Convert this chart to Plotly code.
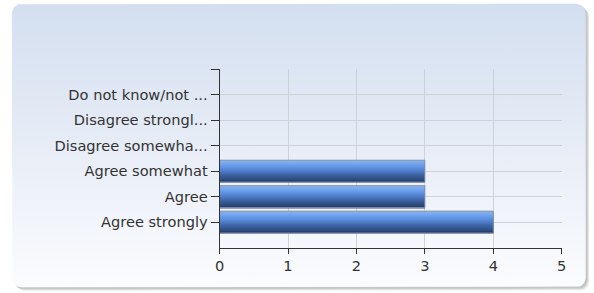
import numpy as np
import plotly.graph_objects as go

# ---- data ----
categories = ["Agree strongly", "Agree", "Agree somewhat",
              "Disagree somewha...", "Disagree strongl...", "Do not know/not ..."]
values = [4, 3, 3, 0, 0, 0]
x_ticks = [0, 1, 2, 3, 4, 5]

W, H = 594, 293
positions = list(range(len(categories)))

# small compensation for the capture scaling observed (content rendered ~1.6% smaller)
K = 1.016
CX, CY = W / 2, H / 2
def sx(x):
    return CX + (x - CX) * K
def sy(y):  # y given in top-down screen pixels -> returns top-down pixels
    return CY + (y - CY) * K

FONT = dict(family="Verdana, DejaVu Sans, sans-serif", size=14.6, color="#333333")

fig = go.Figure()

# ---- background panel (rounded, gradient, shadow) on full-page axes ----
def rounded_rect(x0, y0, x1, y1, r, n=10):
    xs, ys = [], []
    corners = [(x1 - r, y1 - r, 0, 90), (x0 + r, y1 - r, 90, 180),
               (x0 + r, y0 + r, 180, 270), (x1 - r, y0 + r, 270, 360)]
    for cx, cy, a0, a1 in corners:
        t = np.radians(np.linspace(a0, a1, n))
        xs += list(cx + r * np.cos(t))
        ys += list(cy + r * np.sin(t))
    xs.append(xs[0]); ys.append(ys[0])
    return xs, ys

px0, px1 = sx(11.5), sx(586)
ptop, pbot = H - sy(6), H - sy(285)
for dx, alpha in [(4, 0.06), (3, 0.10), (2, 0.16)]:
    qx, qy = rounded_rect(px0 + dx, pbot - dx, px1 + dx, ptop - dx, 10)
    fig.add_trace(go.Scatter(x=qx, y=qy, mode="lines", fill="toself",
                             line=dict(width=0), fillcolor=f"rgba(60,60,60,{alpha})",
                             hoverinfo="skip", showlegend=False, xaxis="x", yaxis="y"))
bx, by = rounded_rect(px0, pbot, px1, ptop, 10)
fig.add_trace(go.Scatter(x=bx, y=by, mode="lines", fill="toself",
                         line=dict(width=0),
                         fillgradient=dict(type="vertical", start=pbot, stop=ptop,
                                           colorscale=[[0, "#fbfcfe"], [0.45, "#e9eef7"],
                                                       [1, "#d3dff0"]]),
                         hoverinfo="skip", showlegend=False, xaxis="x", yaxis="y"))

# ---- bars with vertical gradient (nested bars, darker ones drawn over lower part) ----
bw = 0.86
N = 24
grad = [(0.00, (140, 180, 236)), (0.18, (112, 164, 240)), (0.40, (88, 138, 218)),
        (0.68, (60, 98, 160)), (1.00, (36, 62, 108))]

def color_at(t):
    for (t0, c0), (t1, c1) in zip(grad[:-1], grad[1:]):
        if t <= t1:
            f = (t - t0) / (t1 - t0)
            return "rgb(%d,%d,%d)" % tuple(round(a + (b - a) * f) for a, b in zip(c0, c1))
    return "rgb(%d,%d,%d)" % grad[-1][1]

for i in range(N):
    frac = 1 - i / N
    fig.add_trace(go.Bar(orientation="h", x=values, y=positions,
                         width=bw * frac, offset=-bw / 2,
                         marker=dict(color=color_at((i + 0.5) / N), line=dict(width=0)),
                         hoverinfo="skip", showlegend=False, xaxis="x2", yaxis="y2"))
fig.add_trace(go.Bar(orientation="h", x=values, y=positions, width=bw, offset=-bw / 2,
                     marker=dict(color="rgba(0,0,0,0)",
                                 line=dict(color="#8090a8",
                                           width=[1 if v > 0 else 0 for v in values])),
                     showlegend=False, xaxis="x2", yaxis="y2"))

# ---- layout ----
l, r, t, b = sx(219.5), sx(562), sy(70.5), sy(246)
fig.update_layout(
    width=W, height=H, margin=dict(l=0, r=0, t=0, b=0),
    paper_bgcolor="white", plot_bgcolor="rgba(0,0,0,0)",
    barmode="overlay", font=FONT, showlegend=False,
    xaxis=dict(domain=[0, 1], range=[0, W], visible=False, fixedrange=True),
    yaxis=dict(domain=[0, 1], range=[0, H], visible=False, fixedrange=True),
    xaxis2=dict(domain=[l / W, r / W], anchor="y2", range=[0, 5],
                tickvals=x_ticks, ticktext=[str(v) for v in x_ticks],
                showgrid=True, gridcolor="#cdd1d8", gridwidth=1, zeroline=False,
                showline=True, linecolor="#333333", linewidth=1,
                ticks="outside", ticklen=5, tickcolor="#333333", tickfont=FONT),
    yaxis2=dict(domain=[1 - b / H, 1 - t / H], anchor="x2", range=[-1, 6],
                tickvals=positions + [6], ticktext=categories + [""],
                showgrid=True, gridcolor="#cdd1d8", gridwidth=1, zeroline=False,
                showline=True, linecolor="#333333", linewidth=1,
                ticks="outside", ticklen=8, tickcolor="#333333", tickfont=FONT),
)

fig.write_html("out.html", config=dict(displayModeBar=False, responsive=False),
               post_script="document.documentElement.style.overflow='hidden';"
                           "document.body.style.margin='0';")
